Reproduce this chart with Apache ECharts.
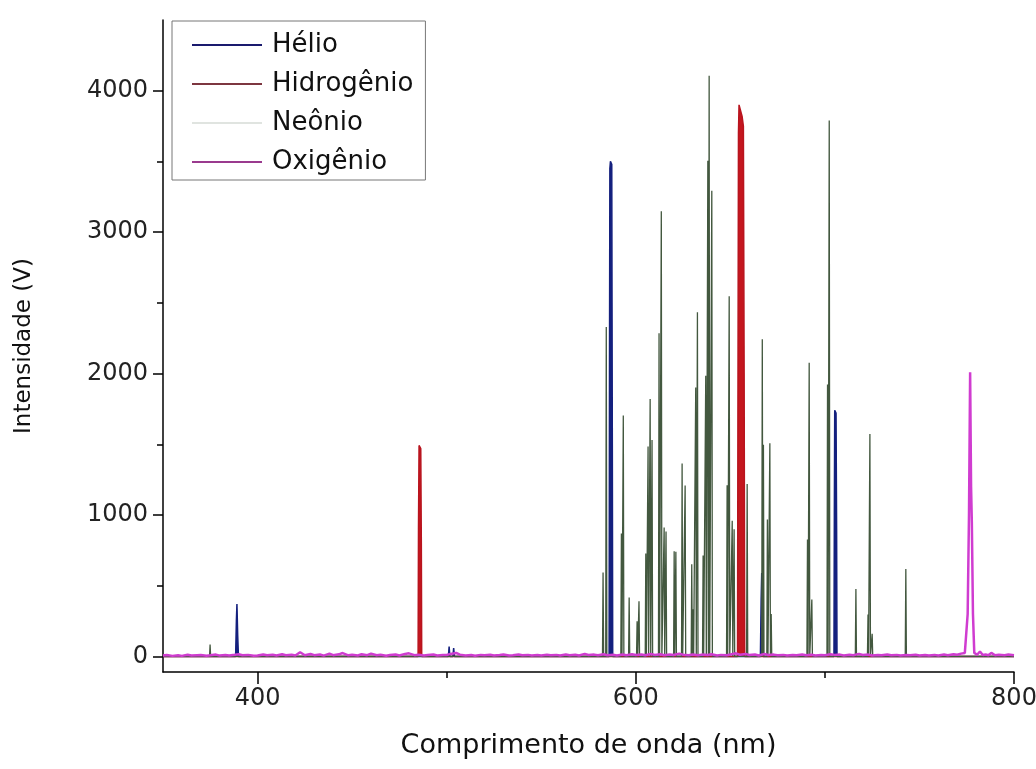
<!DOCTYPE html>
<html>
<head>
<meta charset="utf-8">
<script src="https://cdn.jsdelivr.net/npm/echarts@6/dist/echarts.min.js"></script>
<style>
  html, body { margin: 0; padding: 0; background: #fff; }
  #main { width: 1036px; height: 769px; }
</style>
</head>
<body>
<div id="main"></div>
<script>
// eixo
var xTicks = [400, 600, 800];
var xMinorTicks = [500, 700];
var yTicks = [0, 1000, 2000, 3000, 4000];
var yMinorTicks = [500, 1500, 2500, 3500];

// Hélio: [comprimento de onda, intensidade]
var helioData = [
    [350, 0], [388.4, 0], [388.8, 250], [389.1, 370], [389.5, 150], [389.9, 0],
    [500.9, 0], [501.3, 70], [501.7, 0], [503.3, 0], [503.7, 60], [504.1, 0],
    [585.9, 0], [586.1, 2000], [586.3, 3450], [586.6, 3500], [587.3, 3480], [587.6, 1500], [587.8, 0],
    [665.9, 0], [666.3, 400], [666.6, 590], [667.0, 300], [667.4, 0],
    [704.8, 0], [705.0, 1000], [705.2, 1740], [705.9, 1720], [706.2, 900], [706.4, 0],
    [800, 0]
];

// Hidrogênio
var hidrogenioData = [
    [350, 0], [484.9, 0], [485.1, 900], [485.4, 1492], [486.3, 1470], [486.6, 800], [486.8, 0],
    [653.8, 0], [654.0, 1600], [654.3, 3700], [654.6, 3900], [655.3, 3890], [656.2, 3820],
    [656.9, 3750], [657.3, 2000], [657.6, 0],
    [800, 0]
];

// Neônio: linhas finas (centro, altura)
var neonioWave = [374.9, 582.7, 584.4, 592.4, 593.4, 596.5, 600.7, 601.7, 605.3, 606.5,
    607.6, 608.6, 612.3, 613.5, 615.0, 616.0, 620.3, 621.2, 624.5, 626.1,
    629.6, 630.3, 631.7, 632.6, 635.6, 637.0, 638.1, 638.8, 640.2, 648.3,
    649.4, 651.0, 652.0, 658.9, 666.9, 667.5, 669.6, 670.9, 671.6, 690.8,
    691.7, 693.1, 701.4, 702.3, 716.4, 722.8, 723.8, 725.0, 742.8];
var neonioInt = [85, 594, 2330, 870, 1704, 417, 248, 390, 728, 1485,
    1820, 1530, 2286, 3147, 912, 884, 743, 740, 1365, 1209,
    651, 333, 1902, 2433, 714, 1984, 3504, 4105, 3292, 1210,
    2546, 960, 900, 1220, 2243, 1496, 969, 1508, 300, 827,
    2076, 403, 1923, 3790, 477, 297, 1573, 160, 619];

// Oxigênio: linha de base com ruído e pico em 777 nm
var oxigenioData = [
    [350, 6], [352, 10], [355, 4], [358, 9], [360, 4], [363, 12], [365, 6], [368, 9], [370, 10],
    [373, 5], [375, 8], [378, 13], [380, 6], [383, 10], [385, 7], [388, 12], [390, 16], [392, 8],
    [395, 11], [398, 5], [400, 6], [403, 14], [405, 8], [408, 12], [410, 6], [413, 15], [415, 9],
    [418, 12], [420, 7], [422.5, 30], [425, 8], [428, 17], [430, 9], [433, 14], [435, 6],
    [438, 20], [440, 9], [443, 15], [445, 24], [448, 8], [450, 12], [453, 7], [455, 15], [458, 9],
    [460, 20], [463, 8], [465, 12], [468, 5], [470, 10], [473, 14], [475, 7], [478, 18], [480, 22],
    [483, 9], [485, 12], [488, 6], [490, 10], [493, 14], [495, 7], [498, 11], [500, 10], [502, 18],
    [505, 25], [507, 12], [510, 7], [513, 10], [515, 5], [518, 11], [520, 8], [523, 12], [525, 6],
    [528, 10], [530, 13], [533, 6], [535, 9], [538, 14], [540, 8], [543, 11], [545, 6], [548, 10],
    [550, 7], [553, 12], [555, 8], [558, 11], [560, 6], [563, 14], [565, 9], [568, 12], [570, 7],
    [573, 18], [575, 10], [578, 13], [580, 8], [583, 15], [585, 9], [588, 12], [590, 7], [593, 14],
    [595, 9], [598, 16], [600, 10], [603, 14], [605, 8], [608, 17], [610, 11], [613, 15], [615, 8],
    [618, 13], [620, 10], [623, 20], [625, 12], [628, 9], [630, 14], [633, 8], [635, 13], [638, 10],
    [640, 15], [643, 7], [645, 11], [648, 9], [650, 14], [653, 22], [655, 12], [658, 18], [660, 10],
    [663, 14], [665, 7], [668, 17], [670, 10], [673, 13], [675, 8], [678, 11], [680, 6], [683, 10],
    [685, 8], [688, 14], [690, 9], [693, 12], [695, 7], [698, 10], [700, 8], [703, 16], [705, 11],
    [708, 13], [710, 7], [713, 12], [715, 9], [718, 18], [720, 10], [723, 13], [725, 7], [728, 10],
    [730, 8], [733, 14], [735, 9], [738, 11], [740, 6], [743, 10], [745, 8], [748, 12], [750, 7],
    [753, 10], [755, 6], [758, 11], [760, 7], [763, 13], [765, 9], [768, 16], [770, 12], [772, 20],
    [774, 25], [775.5, 300], [776.2, 1000], [776.8, 2010], [777.3, 1200], [777.7, 950], [778.3, 300],
    [779, 25], [780.5, 12], [782, 35], [783.5, 10], [785, 14], [786.5, 8], [788, 25], [790, 8],
    [792, 12], [795, 9], [797, 13], [800, 8]
];

var neonioData = [[350, 0]];
neonioWave.forEach(function (c, i) {
    neonioData.push([c - 0.3, 0], [c, neonioInt[i]], [c + 0.3, 0]);
});
neonioData.push([800, 0]);

var myChart = echarts.init(document.getElementById('main'));
var font = 'DejaVu Sans, Liberation Sans, sans-serif';
var gridH = 769 - 20 - 97;
var gridW = 1036 - 163 - 22;
var plain = function (v) { return String(v); };

var option = {
    animation: false,
    textStyle: { fontFamily: font },
    grid: { left: 163, right: 22, top: 20, bottom: 97, outerBoundsMode: 'none', containLabel: false },
    legend: {
        orient: 'vertical',
        left: 172,
        top: 21,
        selectedMode: false,
        icon: 'rect',
        itemWidth: 70,
        itemHeight: 2,
        itemGap: 13,
        padding: [11, 12, 5, 20],
        borderColor: '#777',
        borderWidth: 1,
        textStyle: { fontFamily: font, fontSize: 26, color: '#111', lineHeight: 26, padding: [0, 0, 0, 5] },
        data: [
            { name: 'Hélio', itemStyle: { color: '#1a1a6e' } },
            { name: 'Hidrogênio', itemStyle: { color: '#7d3640' } },
            { name: 'Neônio', itemStyle: { color: '#e0e4e0' } },
            { name: 'Oxigênio', itemStyle: { color: '#9a3a8e' } }
        ]
    },
    xAxis: [{
        type: 'value',
        min: 350,
        max: 800,
        name: 'Comprimento de onda (nm)',
        nameLocation: 'middle',
        nameGap: 60,
        nameTextStyle: { fontFamily: font, fontSize: 27, color: '#111' },
        axisLine: { onZero: false, lineStyle: { color: '#000', width: 1.5 } },
        axisTick: { customValues: xTicks, length: 12, lineStyle: { color: '#000', width: 1.5 } },
        axisLabel: { customValues: xTicks, formatter: plain, fontFamily: font, fontSize: 24, color: '#222', margin: 15 },
        splitLine: { show: false }
    }, {
        type: 'value',
        position: 'top',
        offset: -gridH,
        min: 350,
        max: 800,
        axisLine: { show: false },
        axisTick: { inside: true, customValues: xMinorTicks, length: 6, lineStyle: { color: '#000', width: 1.5 } },
        axisLabel: { show: false },
        splitLine: { show: false }
    }],
    yAxis: [{
        type: 'value',
        min: -110,
        max: 4500,
        name: 'Intensidade (V)',
        nameLocation: 'middle',
        nameGap: 127,
        nameTextStyle: { fontFamily: font, fontSize: 23, color: '#111' },
        axisLine: { show: true, onZero: false, lineStyle: { color: '#000', width: 1.5 } },
        axisTick: { show: true, customValues: yTicks, length: 10, lineStyle: { color: '#000', width: 1.5 } },
        axisLabel: { customValues: yTicks, formatter: plain, fontFamily: font, fontSize: 24, color: '#222', margin: 15 },
        splitLine: { show: false }
    }, {
        type: 'value',
        position: 'right',
        offset: -gridW,
        min: -110,
        max: 4500,
        axisLine: { show: false },
        axisTick: { show: true, inside: true, customValues: yMinorTicks, length: 6, lineStyle: { color: '#000', width: 1.5 } },
        axisLabel: { show: false },
        splitLine: { show: false }
    }],
    series: [{
        name: 'Hélio',
        type: 'line',
        data: helioData,
        symbol: 'none',
        silent: true,
        lineStyle: { color: '#14207e', width: 1.5 },
        itemStyle: { color: '#14207e' },
        areaStyle: { color: '#14207e', opacity: 1 }
    }, {
        name: 'Hidrogênio',
        type: 'line',
        data: hidrogenioData,
        symbol: 'none',
        silent: true,
        lineStyle: { color: '#b8141e', width: 1.5 },
        itemStyle: { color: '#b8141e' },
        areaStyle: { color: '#c4161e', opacity: 1 }
    }, {
        name: 'Neônio',
        type: 'line',
        data: neonioData,
        symbol: 'none',
        silent: true,
        lineStyle: { color: '#43583f', width: 1.3 },
        itemStyle: { color: '#43583f' }
    }, {
        name: 'Oxigênio',
        type: 'line',
        data: oxigenioData,
        symbol: 'none',
        silent: true,
        lineStyle: { color: '#d03cd0', width: 2.5 },
        itemStyle: { color: '#d03cd0' }
    }]
};
myChart.setOption(option);
</script>
</body>
</html>
